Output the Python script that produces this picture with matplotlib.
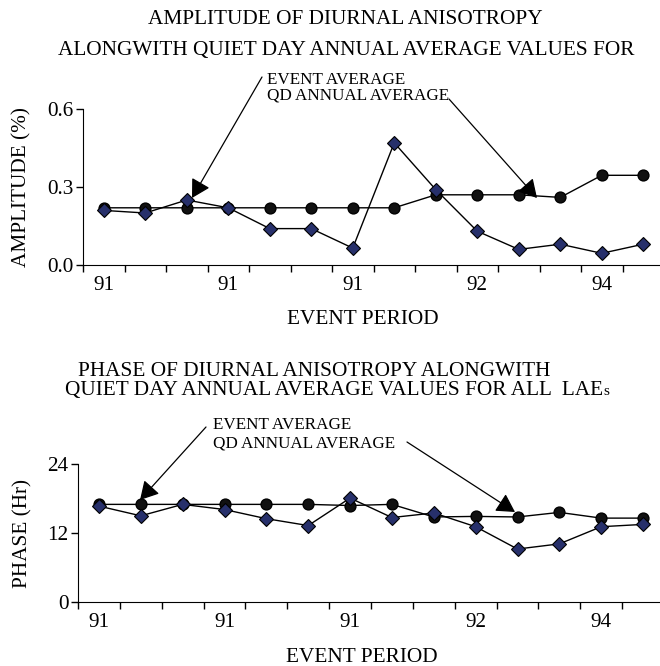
import numpy as np
import matplotlib
matplotlib.use("Agg")
import matplotlib.pyplot as plt

plt.rcParams["font.family"] = ["Liberation Serif", "DejaVu Serif"]

# 14 event periods, only every third one is labelled on the chart
event_labels = ["91", "", "", "91", "", "", "91", "", "", "92", "", "", "94", ""]

amp_event = [0.21, 0.20, 0.25, 0.22, 0.14, 0.14, 0.065, 0.47, 0.29, 0.13, 0.06, 0.08, 0.045, 0.08]
amp_qd = [0.22, 0.22, 0.22, 0.22, 0.22, 0.22, 0.22, 0.22, 0.27, 0.27, 0.27, 0.26, 0.345, 0.345]

phase_event = [16.7, 15.0, 17.0, 16.1, 14.5, 13.3, 18.1, 14.7, 15.5, 13.1, 9.2, 10.1, 13.1, 13.5]
phase_qd = [17.0, 17.0, 17.0, 17.0, 17.0, 17.0, 16.8, 17.0, 14.8, 14.9, 14.8, 15.6, 14.6, 14.6]

W, H = 660, 666
FS = 15.3   # titles, axis labels, tick labels
FS_NOTE = 12.3

fig = plt.figure(figsize=(W / 100, H / 100), dpi=100)


def px(x, y):
    # top-left pixel coords -> figure pixels
    return (x, H - y)


def setup_axes(ax, ylim, yticks, yfmt):
    x = np.arange(1, len(event_labels) + 1)
    ax.set_xlim(0.5, len(event_labels) + 0.5)
    ax.set_ylim(*ylim)
    ax.spines["top"].set_visible(False)
    ax.spines["right"].set_visible(False)
    ax.set_yticks(yticks)
    ax.set_yticklabels([yfmt.format(v) for v in yticks])
    ax.set_xticks(np.arange(0.5, len(event_labels) + 1, 1))
    ax.set_xticklabels([])
    ax.set_xticks(x, minor=True)
    ax.set_xticklabels(event_labels, minor=True)
    ax.tick_params(axis="x", which="major", length=5, width=1, direction="out")
    ax.tick_params(axis="x", which="minor", length=0, pad=8, labelsize=FS)
    ax.tick_params(axis="y", length=5, width=1, direction="out", pad=2, labelsize=FS)
    return x


def draw(ax, x, event, qd):
    ax.plot(x, qd, color="black", lw=1, marker="o", ms=7.8,
            mfc="#111111", mec="black", zorder=3)
    ax.plot(x, event, color="black", lw=1, marker="D", ms=7,
            mfc="#27306b", mec="black", mew=0.8, zorder=4)


def arrow(start, tip):
    fig.add_artist(plt.Annotation(
        "", xy=px(*tip), xycoords="figure pixels",
        xytext=px(*start), textcoords="figure pixels",
        arrowprops=dict(arrowstyle="-|>,head_length=0.8,head_width=0.45",
                        mutation_scale=14, color="black", lw=0.9,
                        shrinkA=0, shrinkB=0)))


# ---- amplitude ----
ax1 = fig.add_axes([83 / W, 1 - 265 / H, 581 / W, 156 / H])
x = setup_axes(ax1, (0, 0.6), [0.0, 0.3, 0.6], "{:.1f}")
draw(ax1, x, amp_event, amp_qd)
ax1.set_ylabel("AMPLITUDE (%)", fontsize=FS)
ax1.yaxis.set_label_coords(-0.088, 0.5)
ax1.set_xlabel("EVENT PERIOD", fontsize=FS)
ax1.xaxis.set_label_coords(0.482, -0.29)

fig.text(345 / W, 1 - 20 / H, "AMPLITUDE OF DIURNAL ANISOTROPY",
         ha="center", va="center", fontsize=FS)
fig.text(346 / W, 1 - 50 / H, "ALONGWITH QUIET DAY ANNUAL AVERAGE VALUES FOR",
         ha="center", va="center", fontsize=FS)

fig.text(267 / W, 1 - 80 / H, "EVENT AVERAGE", ha="left", va="center", fontsize=FS_NOTE)
fig.text(267 / W, 1 - 96 / H, "QD ANNUAL AVERAGE", ha="left", va="center", fontsize=FS_NOTE)
arrow((262, 77), (192, 198))
arrow((449, 99), (537, 198))

# ---- phase ----
ax2 = fig.add_axes([78 / W, 1 - 601.7 / H, 586 / W, 137.4 / H])
x = setup_axes(ax2, (0, 24), [0, 12, 24], "{:d}")
draw(ax2, x, phase_event, phase_qd)
ax2.set_ylabel("PHASE (Hr)", fontsize=FS)
ax2.yaxis.set_label_coords(-0.078, 0.5)
ax2.set_xlabel("EVENT PERIOD", fontsize=FS)
ax2.xaxis.set_label_coords(0.485, -0.337)

fig.text(78 / W, 1 - 372 / H, "PHASE OF DIURNAL ANISOTROPY ALONGWITH",
         ha="left", va="center", fontsize=FS)
t = fig.text(65 / W, 1 - 391 / H, "QUIET DAY ANNUAL AVERAGE VALUES FOR ALL  LAE",
             ha="left", va="center", fontsize=FS)
fig.add_artist(plt.Annotation("s", xy=(1, 0), xycoords=t, xytext=(0.5, 1.5),
                              textcoords="offset points", ha="left", va="bottom",
                              fontsize=11))

fig.text(213 / W, 1 - 425 / H, "EVENT AVERAGE", ha="left", va="center", fontsize=FS_NOTE)
fig.text(213 / W, 1 - 443 / H, "QD ANNUAL AVERAGE", ha="left", va="center", fontsize=FS_NOTE)
arrow((206, 427), (140, 500))
arrow((407, 442), (515, 512))

fig.savefig("out.png", dpi=100)
